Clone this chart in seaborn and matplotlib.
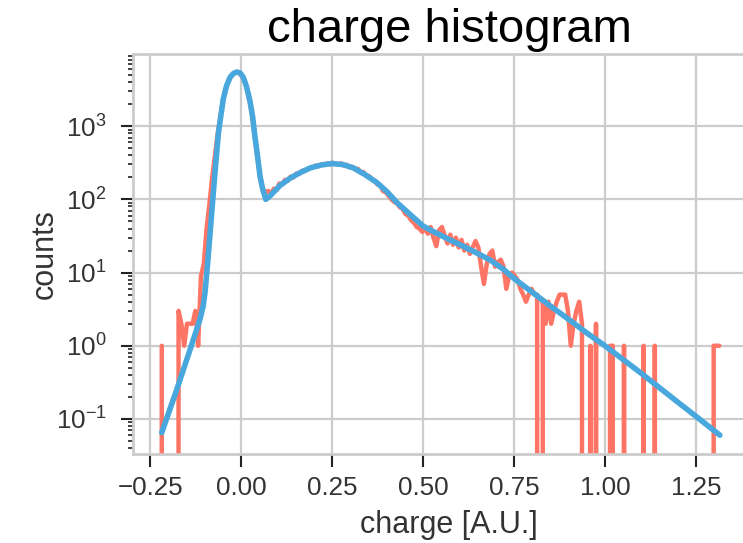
import numpy as np
import pandas as pd
import matplotlib
matplotlib.use("Agg")
import matplotlib.pyplot as plt
import seaborn as sns

# ---- data ----
bin_first_center = -0.218
bin_width = 0.0077
hist_counts = [
    1, 0, 0, 0, 0, 0, 3, 2, 1, 2,
    2, 2, 3, 1, 9, 13, 40, 85, 200, 400,
    800, 1400, 2400, 3400, 4400, 5000, 5400, 5500, 5150, 4600,
    3800, 2600, 1650, 850, 430, 220, 140, 125, 130, 120,
    140, 135, 165, 160, 185, 180, 205, 200, 225, 222,
    245, 248, 255, 270, 275, 290, 285, 300, 295, 310,
    300, 318, 305, 300, 312, 290, 298, 275, 280, 258,
    262, 235, 236, 210, 208, 188, 182, 160, 155, 130,
    125, 112, 100, 92, 88, 78, 74, 63, 60, 52,
    48, 42, 40, 36, 40, 34, 42, 30, 23, 38,
    42, 32, 25, 33, 24, 30, 22, 28, 20, 24,
    18, 22, 27, 22, 12, 7, 13, 18, 20, 12,
    14, 15, 12, 6, 9, 10, 9, 8, 6, 5,
    4, 5, 6, 5, 5, 0, 4, 2, 4, 2,
    3, 4, 5, 5, 5, 3, 1, 2, 3, 4,
    2, 0, 0, 1, 0, 2, 0, 0, 0, 0,
    1, 1, 0, 0, 0, 1, 0, 0, 0, 0,
    0, 0, 1, 0, 0, 0, 1, 0, 0, 0,
    0, 0, 0, 0, 0, 0, 0, 0, 0, 0,
    0, 0, 0, 0, 0, 0, 0, 1, 1, 1,
]
fit_charge = [
    -0.218, -0.177, -0.140, -0.113, -0.104, -0.099, -0.091, -0.080, -0.071, -0.062,
    -0.049, -0.040, -0.030, -0.021, -0.012, -0.003, 0.006, 0.015, 0.025, 0.032,
    0.038, 0.045, 0.052, 0.059, 0.068, 0.080, 0.107, 0.135, 0.160, 0.190,
    0.220, 0.249, 0.280, 0.309, 0.340, 0.373, 0.400, 0.428, 0.465, 0.501,
    0.535, 0.574, 0.610, 0.647, 0.685, 0.720, 0.753, 0.800, 0.850, 0.900,
    0.950, 1.000, 1.100, 1.200, 1.252, 1.316,
]
fit_counts = [
    0.065, 0.25, 0.89, 2.3, 3.5, 5.4, 15, 72, 257, 830,
    2340, 3550, 4680, 5250, 5500, 5370, 4680, 3470, 2140, 1320,
    725, 400, 209, 141, 100, 112, 155, 195, 229, 269,
    295, 309, 299, 269, 219, 170, 129, 91, 62, 43,
    35, 28, 23, 18.6, 14.8, 11.2, 8.1, 5.4, 3.5, 2.3,
    1.5, 1.0, 0.42, 0.17, 0.107, 0.060,
]
x_ticks = [-0.25, 0.0, 0.25, 0.5, 0.75, 1.0, 1.25]

# ---- style ----
sns.set_theme(style="whitegrid")
plt.rcParams['font.family'] = ['Liberation Sans', 'DejaVu Sans']
plt.rcParams['mathtext.fontset'] = 'custom'
plt.rcParams['mathtext.rm'] = 'Liberation Sans'
plt.rcParams['mathtext.it'] = 'Liberation Sans:italic'
plt.rcParams['mathtext.bf'] = 'Liberation Sans:bold'

W, H = 743, 543
fig = plt.figure(figsize=(W / 100, H / 100), dpi=100)
ax = fig.add_axes([133 / W, 89 / H, 632 / W, 400 / H])

centers = bin_first_center + bin_width * np.arange(len(hist_counts))
hist_df = pd.DataFrame({'charge': centers, 'counts': hist_counts})
fit_df = pd.DataFrame({'charge': fit_charge, 'counts': fit_counts})

sns.lineplot(data=hist_df, x='charge', y='counts', ax=ax, color='#ff7565',
             linewidth=3.2, estimator=None, errorbar=None, sort=False)
sns.lineplot(data=fit_df, x='charge', y='counts', ax=ax, color='#48a8de',
             linewidth=4.0, estimator=None, errorbar=None, sort=False)

ax.set_yscale('log')
ax.set_xlim(-0.297, 1.44)
ax.set_ylim(0.0332, 9700)
ax.set_xticks(x_ticks)

ax.grid(True, which='major', color='#cccccc', linewidth=1.6)
ax.grid(False, which='minor')
for s in ax.spines.values():
    s.set_color('#cccccc')
    s.set_linewidth(2)

ax.tick_params(axis='both', which='major', direction='out', length=9, width=1.5,
               color='#222222', labelsize=18.7, labelcolor='#333333',
               left=True, bottom=True)
ax.tick_params(axis='y', which='minor', direction='out', length=3.5, width=1.2,
               color='#222222', left=True)
ax.tick_params(axis='x', pad=7)
ax.tick_params(axis='y', pad=10)

ax.set_xlabel('charge [A.U.]', fontsize=22, color='#333333', labelpad=7)
ax.set_ylabel('counts', fontsize=22, color='#333333', labelpad=-3)
ax.set_title('charge histogram', fontsize=34, color='black', pad=9)

fig.savefig('out.png', dpi=100)
